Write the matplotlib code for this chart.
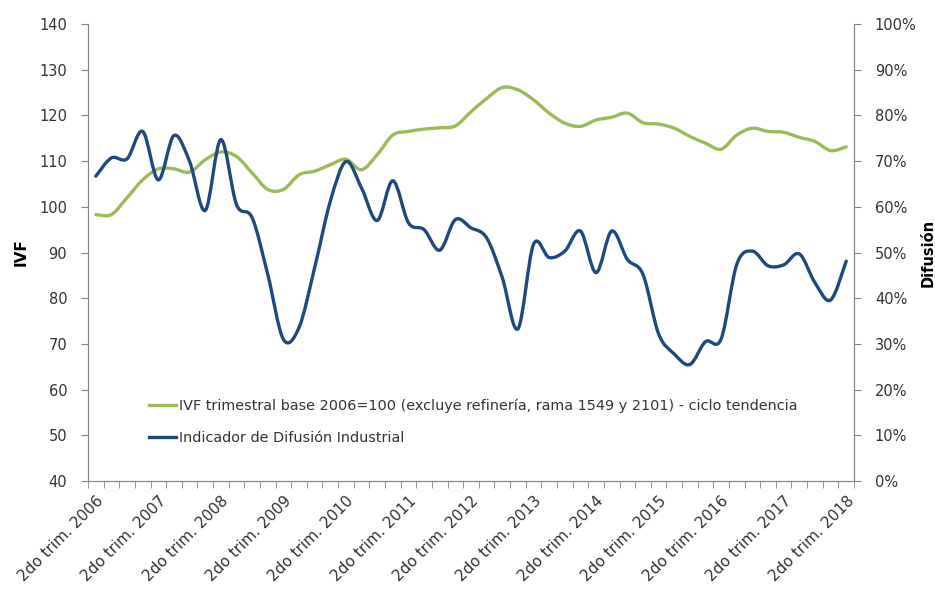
"""IVF trimestral vs Indicador de Difusion Industrial (2006-2018)."""

import matplotlib

matplotlib.use("Agg")

import matplotlib.pyplot as plt
import numpy as np
from matplotlib.lines import Line2D
from matplotlib.patches import PathPatch
from matplotlib.path import Path

# quarters from 2do trim. 2006 to 2do trim. 2018 (49 points)
years = list(range(2006, 2019))
tick_labels = [f"2do trim. {y}" for y in years]

ivf = [
    98.3, 98.3, 102.0, 105.9, 108.3, 108.3, 107.6, 110.3, 112.0, 111.0,
    107.4, 103.8, 103.8, 107.0, 107.8, 109.2, 110.4, 108.1, 111.4, 115.7,
    116.5, 117.0, 117.3, 117.7, 120.8, 123.7, 126.1, 125.6, 123.4, 120.5,
    118.3, 117.6, 119.0, 119.6, 120.5, 118.4, 118.1, 117.2, 115.4, 113.9,
    112.6, 115.7, 117.2, 116.5, 116.3, 115.2, 114.3, 112.3, 113.1,
]

difusion = [
    66.7, 70.7, 70.5, 76.5, 65.9, 75.6, 69.9, 59.2, 74.7, 60.5,
    57.6, 45.2, 31.0, 33.6, 46.7, 61.2, 69.9, 64.1, 57.0, 65.7,
    56.5, 55.0, 50.5, 57.2, 55.4, 53.2, 44.5, 33.3, 51.8, 48.9,
    50.3, 54.7, 45.6, 54.7, 48.5, 45.2, 32.2, 27.8, 25.5, 30.5,
    31.1, 47.4, 50.3, 47.1, 47.3, 49.7, 43.4, 39.6, 48.1,
]

label_ivf = "IVF trimestral base 2006=100 (excluye refinería, rama 1549 y 2101) - ciclo tendencia"
label_dif = "Indicador de Difusión Industrial"

GREEN = "#9BBB59"
BLUE = "#1F497D"
SPINE = "#868686"
TEXT = "#333333"


def smooth_path(xs, ys):
    # Bezier path through the points, like Excel's smoothed lines
    pts = np.column_stack([xs, ys]).astype(float)
    verts = [pts[0]]
    codes = [Path.MOVETO]
    n = len(pts)
    for i in range(n - 1):
        p0 = pts[i - 1] if i > 0 else pts[i]
        p1 = pts[i]
        p2 = pts[i + 1]
        p3 = pts[i + 2] if i + 2 < n else pts[i + 1]
        verts += [p1 + (p2 - p0) / 6, p2 - (p3 - p1) / 6, p2]
        codes += [Path.CURVE4] * 3
    return Path(verts, codes)


plt.rcParams["font.family"] = ["DejaVu Sans"]

fig = plt.figure(figsize=(9.35, 5.91), dpi=100)
ax = fig.add_axes([0.0941, 0.1861, 0.8193, 0.7733])
ax2 = ax.twinx()

x = np.arange(len(ivf))
ax.add_patch(PathPatch(smooth_path(x, ivf), fill=False, edgecolor=GREEN,
                       lw=2.4, capstyle="round", joinstyle="round"))
ax2.add_patch(PathPatch(smooth_path(x, difusion), fill=False, edgecolor=BLUE,
                        lw=2.4, capstyle="round", joinstyle="round"))

ax.set_xlim(-0.5, len(ivf) - 0.5)
ax.set_ylim(40, 140)
ax.set_yticks(range(40, 141, 10))
ax2.set_ylim(0, 100)
ax2.set_yticks(range(0, 101, 10))
ax2.set_yticklabels([f"{v}%" for v in range(0, 101, 10)])

ax.set_xticks(x[::4])
ax.set_xticklabels(tick_labels, rotation=45, ha="right", rotation_mode="anchor")
ax.set_xticks(np.arange(-0.5, len(ivf)), minor=True)
ax.tick_params(axis="x", which="major", length=0, pad=9)
ax.tick_params(axis="x", which="minor", length=5, color=SPINE)

for a in (ax, ax2):
    a.spines["top"].set_visible(False)
    for side in ("left", "right", "bottom"):
        a.spines[side].set_color(SPINE)
    a.tick_params(axis="y", length=5, color=SPINE, labelsize=10.5,
                  labelcolor=TEXT, pad=10)
ax.tick_params(axis="x", labelsize=11, labelcolor=TEXT)

ax.set_ylabel("IVF", fontsize=11, fontweight="bold")
ax.yaxis.set_label_coords(-0.078, 0.5)
ax2.set_ylabel("Difusión", fontsize=10.5, fontweight="bold")
ax2.yaxis.set_label_coords(1.087, 0.5)

handles = [Line2D([], [], color=GREEN, lw=2.4), Line2D([], [], color=BLUE, lw=2.4)]
ax2.legend(handles, [label_ivf, label_dif], loc="lower left",
           bbox_to_anchor=(0.07, 0.063), frameon=False, fontsize=10.4,
           handlelength=1.9, handletextpad=0.2, labelspacing=1.25,
           borderpad=0, labelcolor=TEXT)

fig.savefig("out.png", dpi=100)
